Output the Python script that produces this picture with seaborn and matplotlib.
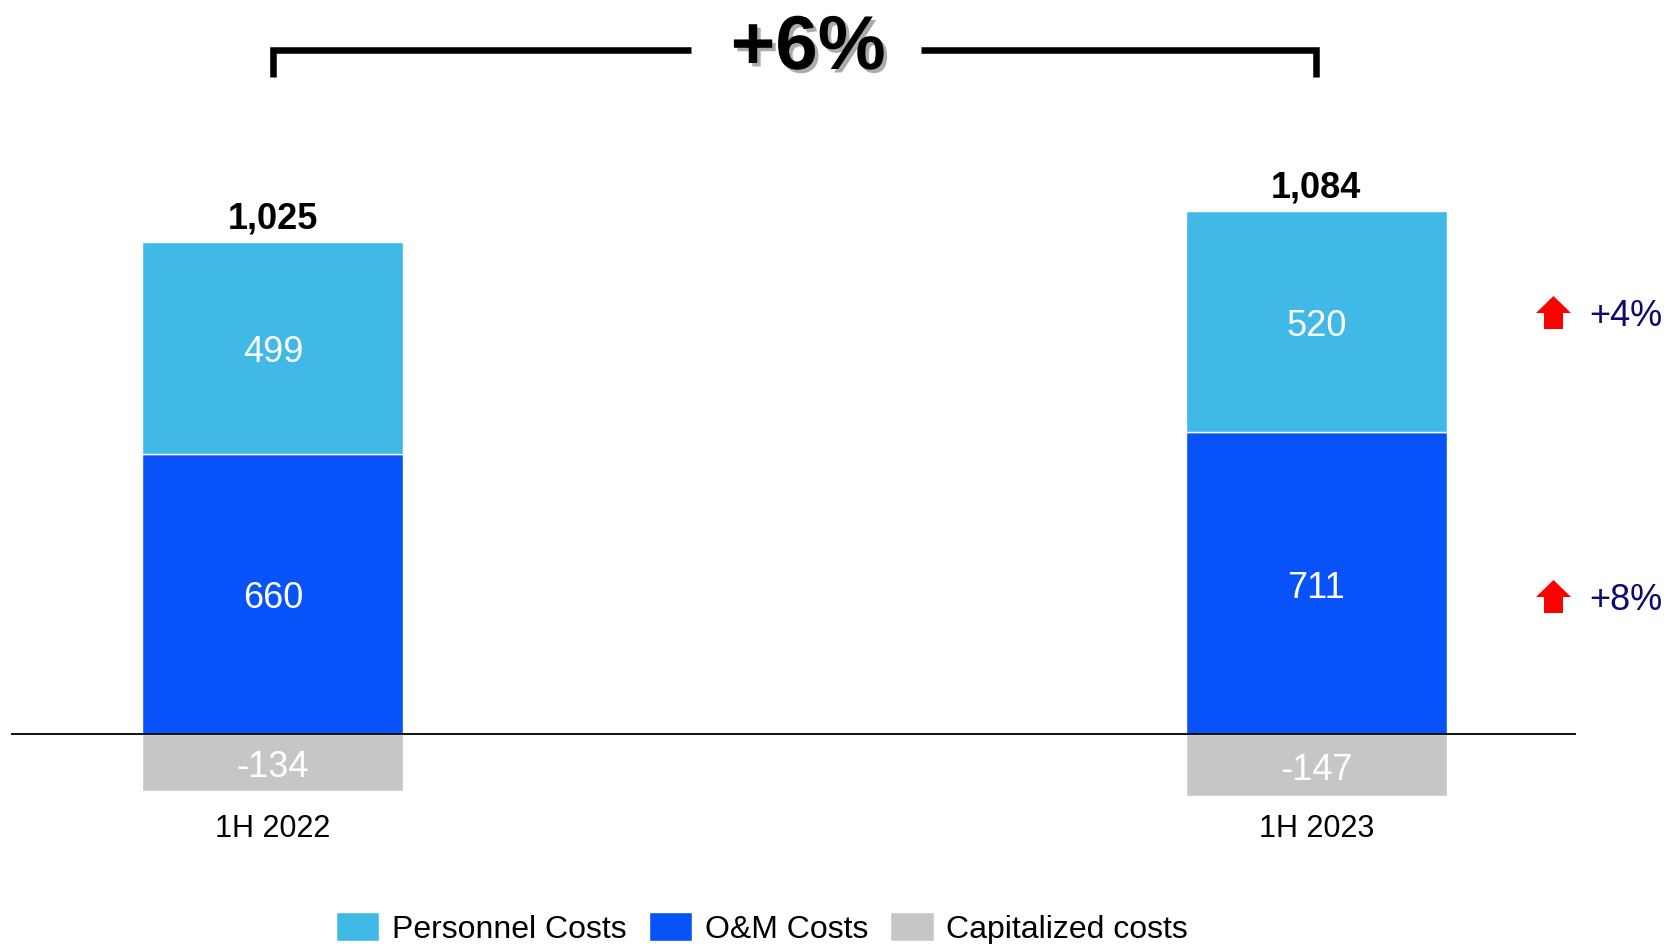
import numpy as np
import pandas as pd
import matplotlib
matplotlib.use('Agg')
import matplotlib.pyplot as plt
import matplotlib.patheffects as pe
from matplotlib.path import Path
from matplotlib import font_manager
import seaborn as sns

# --- data ---
periods = ['1H 2022', '1H 2023']
personnel = [499, 520]
om_costs = [660, 711]
capitalized = [-134, -147]
totals = [1025, 1084]
legend_labels = ['Personnel Costs', 'O&M Costs', 'Capitalized costs']

COL_PERS = '#41B9E6'
COL_OM = '#0852FA'
COL_CAP = '#C6C6C6'
NAVY = '#0B0B6E'

sns.set_theme(style='white')
plt.rcParams['font.family'] = ['Liberation Sans', 'DejaVu Sans']
plt.rcParams['text.color'] = 'black'

installed = {f.name for f in font_manager.fontManager.ttflist}
if 'Liberation Sans Narrow' in installed:
    big_family, big_size = ['Liberation Sans Narrow', 'DejaVu Sans'], 64
else:
    big_family, big_size = ['Liberation Sans', 'DejaVu Sans'], 55

df = pd.DataFrame({'period': periods, 'personnel': personnel, 'om': om_costs,
                   'cap': capitalized, 'total': totals})

fig = plt.figure(figsize=(16.73, 9.45), dpi=100)
ax = fig.add_axes([11 / 1673, 0, 1565 / 1673, 1])

bw = 0.25
common = dict(data=df, x='period', width=bw, saturation=1, errorbar=None,
              edgecolor='white', linewidth=1, ax=ax)
sns.barplot(y='om', color=COL_OM, label=legend_labels[1], **common)
sns.barplot(y='personnel', bottom=list(df['om']), color=COL_PERS,
            label=legend_labels[0], **common)
sns.barplot(y='cap', color=COL_CAP, label=legend_labels[2], **common)

handles, labels = ax.get_legend_handles_labels()
if ax.get_legend() is not None:
    ax.get_legend().remove()

ax.set_xlim(-0.251, 1.249)
ax.set_ylim(-495, 1731)
ax.axhline(0, color='black', lw=1.3, zorder=5)
ax.set_axis_off()


def label(x, y, s, dy=-3, **kw):
    ax.annotate(s, (x, y), xytext=(0, dy), textcoords='offset points',
                ha='center', va='center', annotation_clip=False, **kw)


# segment labels
for i in range(len(periods)):
    om, pers, cap = om_costs[i], personnel[i], capitalized[i]
    label(i, om / 2, f'{om}', color='white', fontsize=26)
    label(i, om + pers / 2, f'{pers}', color='white', fontsize=26)
    label(i, cap / 2, f'{cap}', color='white', fontsize=26)
    ax.annotate(f'{totals[i]:,}', (i, om + pers), xytext=(0, 10.5), textcoords='offset points',
                ha='center', va='baseline', fontsize=26, fontweight='bold', color='black')
    label(i, -212, periods[i], fontsize=22, color='black')

# bracket with total change
chg_total = round((totals[1] / totals[0] - 1) * 100)
y_top, y_bot = 1611, 1548
ax.plot([0, 0, 0.401], [y_bot, y_top, y_top], color='black', lw=4.7,
        solid_joinstyle='miter', solid_capstyle='butt', clip_on=False)
ax.plot([0.621, 1, 1], [y_top, y_top, y_bot], color='black', lw=4.7,
        solid_joinstyle='miter', solid_capstyle='butt', clip_on=False)
ax.text(0.513, 1612, f'+{chg_total}%', ha='center', va='center', fontsize=big_size,
        fontweight='bold', family=big_family, color='black',
        path_effects=[pe.SimplePatchShadow(offset=(2.5, -2.5), shadow_rgbFace='0.45', alpha=0.6),
                      pe.Normal()])

# red arrows with segment growth
arrow_path = Path([(-9.5, -16.5), (9.5, -16.5), (9.5, -0.5), (17.5, -0.5), (0, 16.5),
                   (-17.5, -0.5), (-9.5, -0.5), (-9.5, -16.5)],
                  [Path.MOVETO] + [Path.LINETO] * 6 + [Path.CLOSEPOLY])
chg_pers = round((personnel[1] / personnel[0] - 1) * 100)
chg_om = round((om_costs[1] / om_costs[0] - 1) * 100)
for yv, chg in [(993, chg_pers), (324, chg_om)]:
    ax.plot([1.227], [yv], marker=arrow_path, markersize=25.2, color='#FF0000',
            markeredgewidth=0, ls='none', clip_on=False)
    ax.annotate(f'+{chg}%', (1.262, yv), xytext=(0, -2), textcoords='offset points',
                ha='left', va='center', fontsize=26, color=NAVY, annotation_clip=False)

# legend
order = [labels.index(l) for l in legend_labels]
fig.legend([handles[k] for k in order], [labels[k] for k in order],
           loc='center', bbox_to_anchor=(762 / 1673, 1 - 929 / 945), ncol=3,
           frameon=False, fontsize=23, handlelength=1.35, handleheight=1.03,
           handletextpad=0.4, columnspacing=0.7, borderpad=0, labelcolor='black')

fig.savefig('out.png', dpi=100)
